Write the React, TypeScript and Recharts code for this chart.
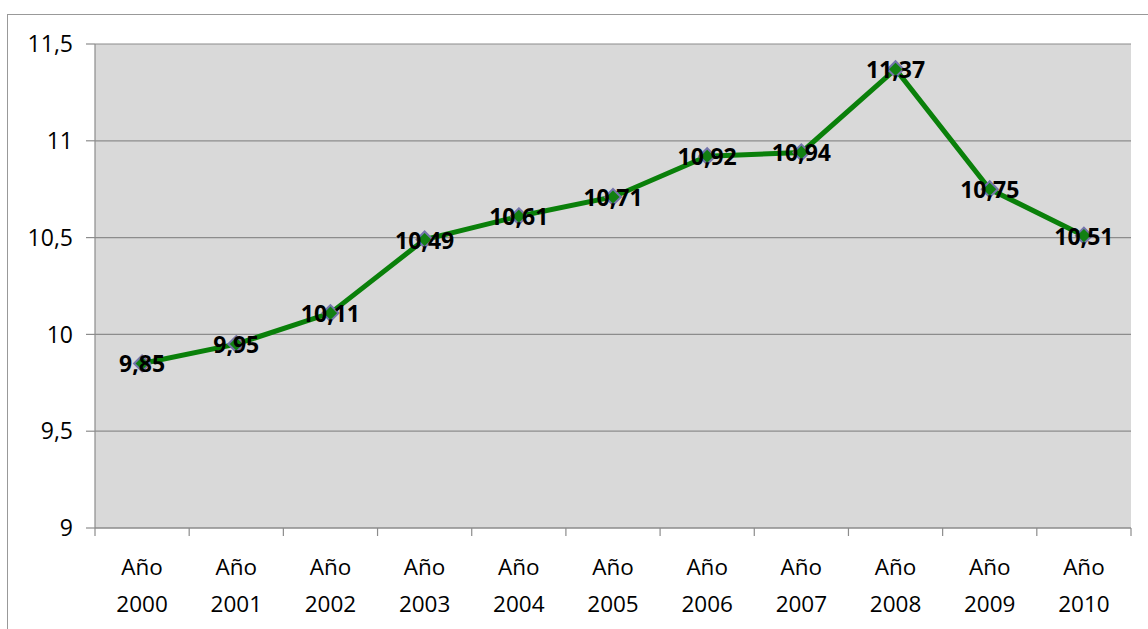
import React from 'react';
import { LineChart, Line, XAxis, YAxis, CartesianGrid, LabelList } from 'recharts';

const years = ['2000', '2001', '2002', '2003', '2004', '2005', '2006', '2007', '2008', '2009', '2010'];
const values = [9.85, 9.95, 10.11, 10.49, 10.61, 10.71, 10.92, 10.94, 11.37, 10.75, 10.51];
const yTicks = [9, 9.5, 10, 10.5, 11, 11.5];

const data = years.map((year, i) => ({ idx: i, year, value: values[i] }));
// category centres carry the labels, half steps carry the tick marks
const xTicks = [-0.5, ...years.flatMap((_, i) => [i, i + 0.5])];
const xDomain = [-0.5, years.length - 0.5];

const FONT = '"Open Sans", "Liberation Sans", sans-serif';
const AXIS_GRAY = '#8c8c8c';

const fmt = (v: number) => String(v).replace('.', ',');

const Diamond = (props: any) => {
  const { cx, cy } = props;
  if (cx == null || cy == null) return null;
  const r = 8;
  return (
    <path
      d={`M${cx},${cy - r} L${cx + r},${cy} L${cx},${cy + r} L${cx - r},${cy} Z`}
      fill="#128012"
      stroke="#7474ac"
      strokeWidth={2}
    />
  );
};

const ValueLabel = (props: any) => {
  const x = props.viewBox?.x ?? props.x;
  const y = props.viewBox?.y ?? props.y;
  return (
    <text
      x={x}
      y={y}
      textAnchor="middle"
      dominantBaseline="central"
      fontFamily={FONT}
      fontWeight={700}
      fontSize={23}
      fill="#000"
    >
      {fmt(props.value)}
    </text>
  );
};

const YearTick = (props: any) => {
  const { x, y, payload } = props;
  const v = payload.value;
  if (!Number.isInteger(v)) {
    return <line x1={x} y1={y} x2={x} y2={y + 8} stroke={AXIS_GRAY} strokeWidth={1.2} />;
  }
  return (
    <g>
      <text x={x} y={y + 47} textAnchor="middle" fontFamily={FONT} fontSize={22.5} fill="#000">
        Año
      </text>
      <text x={x} y={y + 84} textAnchor="middle" fontFamily={FONT} fontSize={22.5} fill="#000">
        {years[v]}
      </text>
    </g>
  );
};

export default function App() {
  return (
    <div
      style={{
        position: 'absolute',
        left: 0,
        top: 0,
        width: 1148,
        height: 629,
        overflow: 'hidden',
        background: '#fff',
      }}
    >
      <div
        style={{
          position: 'absolute',
          left: 7,
          top: 14,
          width: 1200,
          height: 700,
          border: '1px solid #999',
        }}
      />
      <div style={{ position: 'absolute', left: 0, top: 0 }}>
        <LineChart
          width={1148}
          height={629}
          data={data}
          margin={{ top: 44, right: 17, left: 0, bottom: 0 }}
        >
          <CartesianGrid
            vertical={false}
            stroke={AXIS_GRAY}
            strokeWidth={1.2}
            fill="#d9d9d9"
            fillOpacity={1}
          />
          <XAxis
            dataKey="idx"
            type="number"
            domain={xDomain}
            ticks={xTicks}
            tick={<YearTick />}
            tickSize={0}
            tickMargin={0}
            tickLine={false}
            axisLine={{ stroke: AXIS_GRAY, strokeWidth: 1.2 }}
            height={101}
            interval={0}
            allowDataOverflow
          />
          <YAxis
            domain={[9, 11.5]}
            ticks={yTicks}
            tickFormatter={fmt}
            width={95}
            tickSize={9}
            tickMargin={13}
            axisLine={{ stroke: AXIS_GRAY, strokeWidth: 1.2 }}
            tickLine={{ stroke: AXIS_GRAY, strokeWidth: 1.2 }}
            tick={{ fill: '#000', fontFamily: FONT, fontSize: 23 }}
            interval={0}
          />
          <Line
            dataKey="value"
            stroke="#0a800a"
            strokeWidth={5}
            dot={<Diamond />}
            activeDot={false}
            isAnimationActive={false}
          >
            <LabelList dataKey="value" content={<ValueLabel />} />
          </Line>
        </LineChart>
      </div>
    </div>
  );
}
